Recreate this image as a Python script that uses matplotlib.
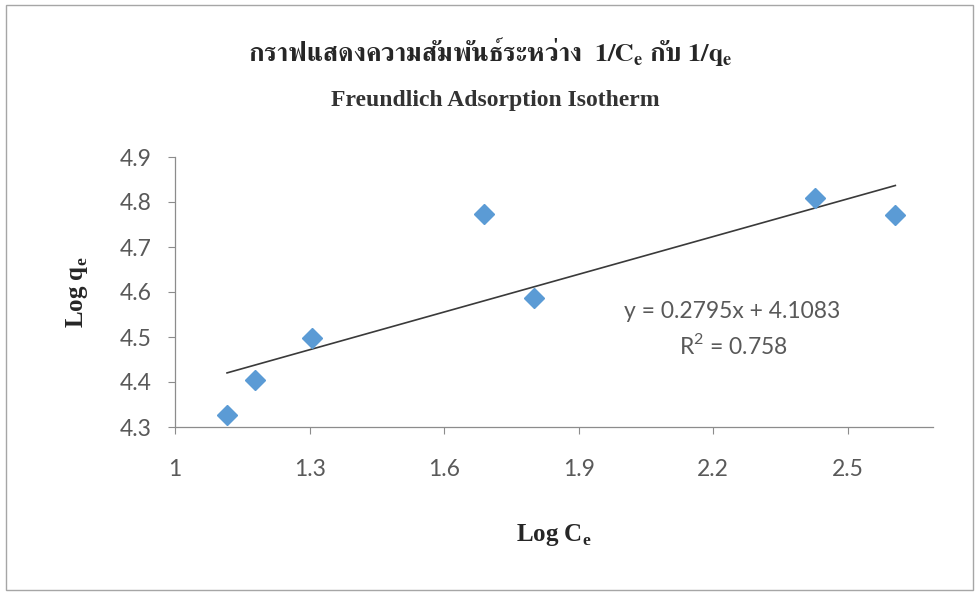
import matplotlib
matplotlib.use("Agg")
import matplotlib.pyplot as plt
from matplotlib.patches import Rectangle
import numpy as np

# data
log_ce = [1.116, 1.179, 1.306, 1.690, 1.800, 2.428, 2.606]
log_qe = [4.327, 4.404, 4.498, 4.773, 4.587, 4.808, 4.771]
slope, intercept = 0.2795, 4.1083
x_ticks = [1, 1.3, 1.6, 1.9, 2.2, 2.5]
y_ticks = [4.3, 4.4, 4.5, 4.6, 4.7, 4.8, 4.9]

title_th = "กราฟแสดงความสัมพันธ์ระหว่าง  1/C$_\\mathregular{e}$ กับ 1/q$_\\mathregular{e}$"
subtitle = "Freundlich Adsorption Isotherm"

fig = plt.figure(figsize=(9.78, 5.95), dpi=100)
ax = fig.add_axes([175 / 978, 168 / 595, 758 / 978, 270 / 595])

ax.plot(log_ce, log_qe, linestyle="none", marker="D", markersize=10,
        color="#5b9bd5", markeredgecolor="#5b9bd5", zorder=3)

# linear trendline over the data range
xl = np.array([min(log_ce), max(log_ce)])
ax.plot(xl, slope * xl + intercept, color="#3a3a3a", linewidth=1.2, zorder=2)

ax.set_xlim(1, 2.69)
ax.set_ylim(4.3, 4.9)
ax.set_xticks(x_ticks)
ax.set_xticklabels([f"{t:g}" for t in x_ticks])
ax.set_yticks(y_ticks)
ax.set_yticklabels([f"{t:.1f}" for t in y_ticks])

for s in ["top", "right"]:
    ax.spines[s].set_visible(False)
for s in ["left", "bottom"]:
    ax.spines[s].set_color("#8c8c8c")
    ax.spines[s].set_linewidth(0.9)

ax.tick_params(axis="x", direction="out", length=5, color="#8c8c8c", pad=18,
               labelsize=16.5, labelcolor="#595959")
ax.tick_params(axis="y", direction="out", length=5, color="#8c8c8c", pad=12,
               labelsize=16.5, labelcolor="#595959")
for lab in ax.get_xticklabels() + ax.get_yticklabels():
    lab.set_family("Lato")

# trendline equation
ax.text((732 - 175) / 758, (427 - 312) / 270, "y = 0.2795x + 4.1083",
        transform=ax.transAxes, ha="center", va="center",
        fontsize=16.5, family="Lato", color="#595959")
ax.text((733 - 175) / 758, (427 - 345) / 270, "R$^\\mathregular{2}$ = 0.758",
        transform=ax.transAxes, ha="center", va="center",
        fontsize=16.5, family="Lato", color="#595959")

ax.set_xlabel("Log C$_\\mathregular{e}$", family="Liberation Serif", fontweight="bold",
              fontsize=18, color="#262626", va="center")
ax.xaxis.set_label_coords(0.5, (427 - 535) / 270)
ax.set_ylabel("Log q$_\\mathregular{e}$", family="Liberation Serif", fontweight="bold",
              fontsize=18, color="#262626", va="center")
ax.yaxis.set_label_coords((77 - 175) / 758, 0.5)

fig.text(490 / 978, 1 - 52 / 595, title_th, ha="center", va="center",
         family="FreeSerif", fontweight="bold", fontsize=19, color="#262626")
fig.text(495 / 978, 1 - 100 / 595, subtitle, ha="center", va="center",
         family="Liberation Serif", fontweight="bold", fontsize=17, color="#333333")

# chart area border
fig.patches.append(Rectangle((6 / 978, 5 / 595), 967 / 978, 585 / 595,
                             transform=fig.transFigure, fill=False,
                             edgecolor="#a6a6a6", linewidth=1.0))

fig.savefig("out.png", dpi=100)
